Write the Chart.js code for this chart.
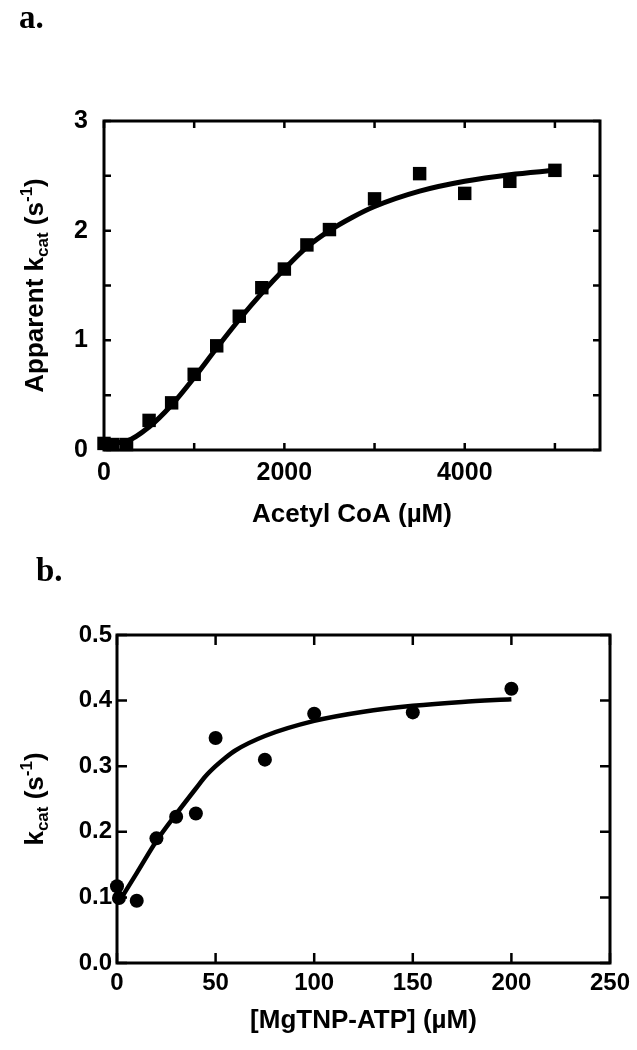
<!DOCTYPE html>
<html>
<head>
<meta charset="utf-8">
<script src="https://cdn.jsdelivr.net/npm/chart.js@4.4.1/dist/chart.umd.min.js"></script>
<style>
  html, body { margin: 0; padding: 0; background: #fff; }
  #wrap { position: relative; width: 637px; height: 1050px; }
  canvas { position: absolute; left: 0; }
  #chartA { top: 0; }
  #chartB { top: 540px; }
</style>
</head>
<body>
<div id="wrap">
  <canvas id="chartA" width="637" height="540"></canvas>
  <canvas id="chartB" width="637" height="510"></canvas>
</div>
<script>
// ── Panel a: apparent kcat vs acetyl CoA ─────────────────────────────────────
const A_X      = [0, 100, 250, 500, 750, 1000, 1250, 1500, 1750, 2000, 2250, 2500, 3000, 3500, 4000, 4500, 5000];
const A_Y      = [0.06, 0.05, 0.05, 0.27, 0.43, 0.69, 0.95, 1.22, 1.48, 1.65, 1.87, 2.01, 2.29, 2.52, 2.34, 2.45, 2.55];
const A_FIT_X  = [0, 250, 500, 750, 1000, 1250, 1500, 1750, 2000, 2250, 2500, 2750, 3000, 3500, 4000, 4500, 5000];
const A_FIT_Y  = [0.06, 0.08, 0.21, 0.41, 0.66, 0.93, 1.19, 1.43, 1.65, 1.85, 2.0, 2.12, 2.22, 2.36, 2.45, 2.51, 2.55];
const A_X_TICKS  = [0, 1000, 2000, 3000, 4000, 5000];
const A_X_LABELS = [0, 2000, 4000];
const A_Y_TICKS  = [0, 0.5, 1, 1.5, 2, 2.5, 3];
const A_Y_LABELS = [0, 1, 2, 3];

// ── Panel b: kcat vs MgTNP-ATP ────────────────────────────────────────────────
const B_X      = [0, 1, 10, 20, 30, 40, 50, 75, 100, 150, 200];
const B_Y      = [0.117, 0.099, 0.095, 0.19, 0.223, 0.228, 0.343, 0.31, 0.38, 0.382, 0.418];
const B_FIT_X  = [2, 10, 20, 30, 40, 45, 50, 55, 60, 75, 100, 125, 150, 175, 200];
const B_FIT_Y  = [0.098, 0.137, 0.186, 0.227, 0.266, 0.285, 0.300, 0.313, 0.324, 0.346, 0.369, 0.383, 0.392, 0.398, 0.402];
const B_X_TICKS = [0, 50, 100, 150, 200, 250];
const B_Y_TICKS = [0, 0.1, 0.2, 0.3, 0.4, 0.5];

Chart.defaults.font.family = "'Liberation Sans', Arial, sans-serif";
Chart.defaults.font.weight = 'bold';
Chart.defaults.color = '#000';

const toPts = (xs, ys) => xs.map((x, i) => ({ x, y: ys[i] }));

// Frame, inward tick marks, rich y title and panel letter
const panelDecor = {
  id: 'panelDecor',
  afterDraw(chart, args, o) {
    const { ctx, chartArea: a, scales: { x, y } } = chart;
    ctx.save();
    ctx.strokeStyle = '#000';
    ctx.lineWidth = o.frame;
    ctx.strokeRect(a.left, a.top, a.right - a.left, a.bottom - a.top);
    ctx.lineWidth = 2.5;
    ctx.beginPath();
    o.xTicks.forEach(v => {
      const p = x.getPixelForValue(v);
      ctx.moveTo(p, a.bottom); ctx.lineTo(p, a.bottom - o.tick);
      ctx.moveTo(p, a.top);    ctx.lineTo(p, a.top + o.tick);
    });
    o.yTicks.forEach(v => {
      const p = y.getPixelForValue(v);
      ctx.moveTo(a.left, p);  ctx.lineTo(a.left + o.tick, p);
      ctx.moveTo(a.right, p); ctx.lineTo(a.right - o.tick, p);
    });
    ctx.stroke();

    // y title with subscript / superscript
    const big = "bold 26px 'Liberation Sans', Arial, sans-serif";
    const small = "bold 17px 'Liberation Sans', Arial, sans-serif";
    const parts = o.yTitle.map(([t, kind]) => {
      ctx.font = kind ? small : big;
      return { t, kind, w: ctx.measureText(t).width };
    });
    const total = parts.reduce((s, p) => s + p.w, 0);
    ctx.translate(o.yTitleX, (a.top + a.bottom) / 2);
    ctx.rotate(-Math.PI / 2);
    ctx.fillStyle = '#000';
    ctx.textBaseline = 'alphabetic';
    let cx = -total / 2;
    parts.forEach(p => {
      ctx.font = p.kind ? small : big;
      const dy = p.kind === 'sub' ? 5 : p.kind === 'sup' ? -11 : 0;
      ctx.fillText(p.t, cx, 9 + dy);
      cx += p.w;
    });
    ctx.restore();

    ctx.save();
    ctx.fillStyle = '#000';
    ctx.font = "bold 33px 'Liberation Serif', 'Times New Roman', serif";
    ctx.textBaseline = 'alphabetic';
    ctx.fillText(o.letter, o.letterX, o.letterY);
    ctx.restore();
  }
};

function makePanel(id, cfg) {
  return new Chart(document.getElementById(id), {
    type: 'scatter',
    data: {
      datasets: [
        {
          data: toPts(cfg.px, cfg.py),
          pointStyle: cfg.marker,
          pointRadius: cfg.radius,
          pointBackgroundColor: '#000',
          pointBorderColor: '#000',
          pointBorderWidth: 0,
          showLine: false,
          clip: false,
        },
        {
          data: toPts(cfg.fx, cfg.fy),
          showLine: true,
          borderColor: '#000',
          borderWidth: cfg.lineW,
          pointRadius: 0,
          cubicInterpolationMode: 'monotone',
          clip: false,
        },
      ],
    },
    options: {
      responsive: false,
      animation: false,
      events: [],
      layout: { padding: { left: 0, top: cfg.top, right: cfg.right, bottom: 0 } },
      plugins: {
        legend: { display: false },
        tooltip: { enabled: false },
        panelDecor: cfg.decor,
      },
      scales: {
        x: {
          type: 'linear',
          min: cfg.xMin, max: cfg.xMax,
          afterBuildTicks: s => { s.ticks = cfg.decor.xTicks.map(v => ({ value: v })); },
          afterFit: s => { s.height = cfg.xH; },
          grid: { display: false, drawTicks: false },
          border: { display: false },
          ticks: {
            autoSkip: false, maxRotation: 0, padding: cfg.xPad,
            font: { size: cfg.tickSize },
            callback: cfg.xLabel,
          },
          title: {
            display: true, text: cfg.xTitle,
            font: { size: 26, weight: 'bold' },
            padding: { top: cfg.titlePad, bottom: cfg.titlePad },
          },
        },
        y: {
          type: 'linear',
          min: cfg.yMin, max: cfg.yMax,
          afterBuildTicks: s => { s.ticks = cfg.decor.yTicks.map(v => ({ value: v })); },
          afterFit: s => { s.width = cfg.yW; },
          grid: { display: false, drawTicks: false },
          border: { display: false },
          ticks: {
            autoSkip: false, padding: cfg.yPad,
            font: { size: cfg.tickSize },
            callback: cfg.yLabel,
          },
        },
      },
    },
    plugins: [panelDecor],
  });
}

makePanel('chartA', {
  px: A_X, py: A_Y, fx: A_FIT_X, fy: A_FIT_Y,
  marker: 'rect', radius: 9.5, lineW: 5,
  top: 121, right: 37, xH: 90, yW: 104,
  xMin: 0, xMax: 5500, yMin: 0, yMax: 3,
  xPad: 8, yPad: 16, tickSize: 25, titlePad: 10,
  xLabel: v => A_X_LABELS.includes(v) ? String(v) : '',
  yLabel: v => A_Y_LABELS.includes(v) ? String(v) : '',
  xTitle: 'Acetyl CoA (\u00b5M)',
  decor: {
    frame: 3, tick: 7, xTicks: A_X_TICKS, yTicks: A_Y_TICKS,
    yTitleX: 34,
    yTitle: [['Apparent k', ''], ['cat', 'sub'], [' (s', ''], ['-1', 'sup'], [')', '']],
    letter: 'a.', letterX: 19, letterY: 28,
  },
});

makePanel('chartB', {
  px: B_X, py: B_Y, fx: B_FIT_X, fy: B_FIT_Y,
  marker: 'circle', radius: 7, lineW: 4.5,
  top: 95, right: 27, xH: 87, yW: 117,
  xMin: 0, xMax: 250, yMin: 0, yMax: 0.5,
  xPad: 6, yPad: 5, tickSize: 24, titlePad: 14,
  xLabel: v => String(v),
  yLabel: v => v.toFixed(1),
  xTitle: '[MgTNP-ATP] (\u00b5M)',
  decor: {
    frame: 3, tick: 10, xTicks: B_X_TICKS, yTicks: B_Y_TICKS,
    yTitleX: 34,
    yTitle: [['k', ''], ['cat', 'sub'], [' (s', ''], ['-1', 'sup'], [')', '']],
    letter: 'b.', letterX: 36, letterY: 41,
  },
});
</script>
</body>
</html>
